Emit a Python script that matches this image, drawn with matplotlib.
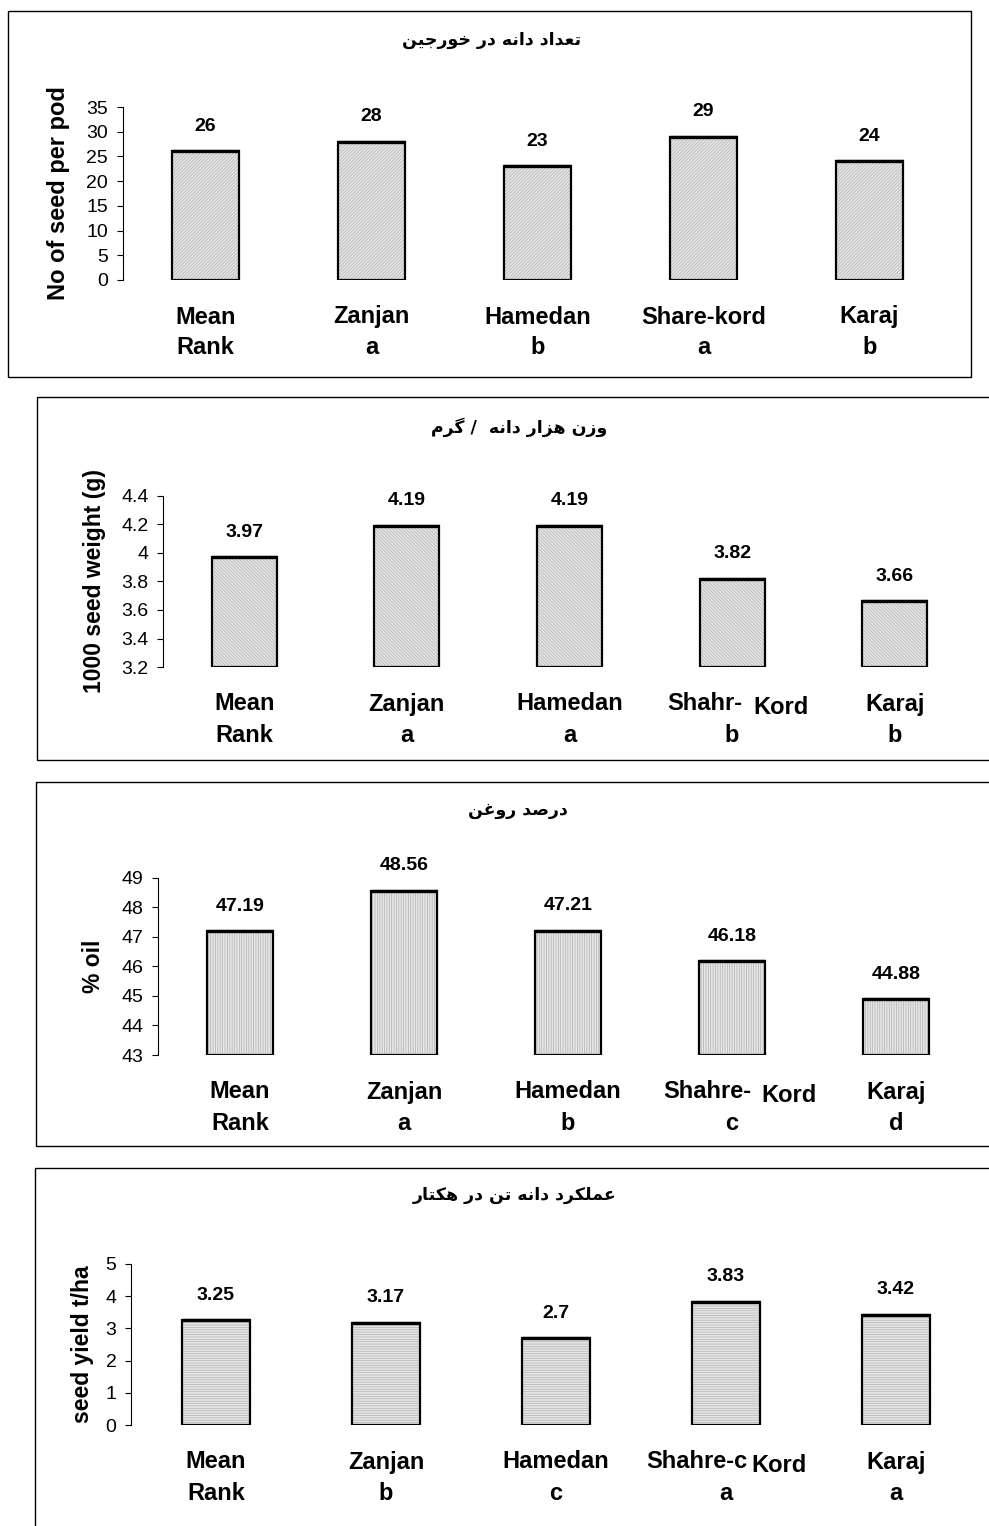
import numpy as np
import matplotlib
matplotlib.use("Agg")
import matplotlib.pyplot as plt
from matplotlib.patches import Rectangle
from matplotlib.ticker import FuncFormatter

plt.rcParams.update({"font.family": ["Liberation Sans", "DejaVu Sans"],
                     "hatch.linewidth": 0.5})

W, H = 989, 1526

# ---- data -------------------------------------------------------------
sites_1 = ["Mean", "Zanjan", "Hamedan", "Share-kord", "Karaj"]
ranks_1 = ["Rank", "a", "b", "a", "b"]
seeds_per_pod = [26, 28, 23, 29, 24]

sites_2 = ["Mean", "Zanjan", "Hamedan", ("Shahr-", "Kord"), "Karaj"]
ranks_2 = ["Rank", "a", "a", "b", "b"]
seed_weight = [3.97, 4.19, 4.19, 3.82, 3.66]

sites_3 = ["Mean", "Zanjan", "Hamedan", ("Shahre-", "Kord"), "Karaj"]
ranks_3 = ["Rank", "a", "b", "c", "d"]
oil_pct = [47.19, 48.56, 47.21, 46.18, 44.88]

sites_4 = ["Mean", "Zanjan", "Hamedan", ("Shahre-c", "Kord"), "Karaj"]
ranks_4 = ["Rank", "b", "c", "a", "a"]
seed_yield = [3.25, 3.17, 2.7, 3.83, 3.42]

titles = ["تعداد دانه در خورجین", "وزن هزار دانه  / گرم", "درصد روغن", "عملکرد دانه تن در هکتار"]
ylabels = ["No of seed per pod", "1000 seed weight (g)", "% oil", "seed yield t/ha"]

# ---- minimal persian shaping (matplotlib has no complex text layout) ----
FORMS = {"ا": (0xFE8D, 0xFE8E), "د": (0xFEA9, 0xFEAA), "ر": (0xFEAD, 0xFEAE),
         "ز": (0xFEAF, 0xFEB0), "و": (0xFEED, 0xFEEE),
         "ت": (0xFE95, 0xFE96, 0xFE97, 0xFE98), "ج": (0xFE9D, 0xFE9E, 0xFE9F, 0xFEA0),
         "خ": (0xFEA5, 0xFEA6, 0xFEA7, 0xFEA8), "ص": (0xFEB9, 0xFEBA, 0xFEBB, 0xFEBC),
         "ع": (0xFEC9, 0xFECA, 0xFECB, 0xFECC), "غ": (0xFECD, 0xFECE, 0xFECF, 0xFED0),
         "ل": (0xFEDD, 0xFEDE, 0xFEDF, 0xFEE0), "م": (0xFEE1, 0xFEE2, 0xFEE3, 0xFEE4),
         "ن": (0xFEE5, 0xFEE6, 0xFEE7, 0xFEE8), "ه": (0xFEE9, 0xFEEA, 0xFEEB, 0xFEEC),
         "ی": (0xFBFC, 0xFBFD, 0xFBFE, 0xFBFF), "ک": (0xFB8E, 0xFB8F, 0xFB90, 0xFB91),
         "گ": (0xFB92, 0xFB93, 0xFB94, 0xFB95)}


def shape(s):
    out = []
    for i, c in enumerate(s):
        if c not in FORMS:
            out.append(c)
            continue
        f = FORMS[c]
        jp = i > 0 and len(FORMS.get(s[i - 1], ())) == 4
        jn = len(f) == 4 and i + 1 < len(s) and s[i + 1] in FORMS
        if jp and jn:
            g = f[3]
        elif jp:
            g = f[1]
        elif jn:
            g = f[2]
        else:
            g = f[0]
        out.append(chr(g))
    return "".join(reversed(out))


# ---- layout (pixels) --------------------------------------------------
# left spine x, bar spacing, axes top y, axes bottom y, ylim, yticks, box, title xy, ylabel x, hatch
panels = [
    dict(sites=sites_1, ranks=ranks_1, vals=seeds_per_pod, x0=122.5, dx=166, top=107, bot=280,
         ylim=(0, 35), ticks=np.arange(0, 36, 5), box=(8, 11, 971, 377), tpos=(491, 40),
         ylx=58, yls=17, hatch="/" * 10, split=None),
    dict(sites=sites_2, ranks=ranks_2, vals=seed_weight, x0=163, dx=162.6, top=496, bot=667,
         ylim=(3.2, 4.4), ticks=np.arange(3.2, 4.41, 0.2), box=(37, 397, 1000, 760), tpos=(519, 427),
         ylx=94, yls=16.5, hatch="\\" * 10, split=(10, 21)),
    dict(sites=sites_3, ranks=ranks_3, vals=oil_pct, x0=158, dx=164, top=877.7, bot=1055,
         ylim=(43, 49), ticks=np.arange(43, 50, 1), box=(36, 782, 1000, 1146), tpos=(518, 810),
         ylx=94, yls=16.5, hatch="|" * 7, split=(19, 29)),
    dict(sites=sites_4, ranks=ranks_4, vals=seed_yield, x0=131, dx=170, top=1264, bot=1425,
         ylim=(0, 5), ticks=np.arange(0, 6, 1), box=(35, 1168, 1000, 1540), tpos=(515, 1195),
         ylx=82, yls=16.5, hatch="-" * 7, split=(22, 25)),
]

FACE = "#e6e6e6"
HATCH = "#b0b0b0"

fig = plt.figure(figsize=(W / 100, H / 100), dpi=100)

for p, title, ylab in zip(panels, titles, ylabels):
    bx0, by0, bx1, by1 = p["box"]
    fig.add_artist(Rectangle((bx0 / W, 1 - by1 / H), (bx1 - bx0) / W, (by1 - by0) / H,
                             transform=fig.transFigure, fill=False, ec="black", lw=1.0))

    ax = fig.add_axes([p["x0"] / W, 1 - p["bot"] / H, 5 * p["dx"] / W, (p["bot"] - p["top"]) / H])
    x = np.arange(len(p["vals"]))
    base = p["ylim"][0]
    heights = np.array(p["vals"]) - base
    ax.bar(x, heights, 0.40, bottom=base, color=FACE, edgecolor=HATCH, lw=0, hatch=p["hatch"], zorder=2)
    ax.bar(x, heights, 0.40, bottom=base, fill=False, edgecolor="black", lw=1.6, zorder=3)
    ax.hlines(p["vals"], x - 0.2, x + 0.2, color="black", lw=2.4, zorder=4)

    ax.set_xlim(-0.5, 4.5)
    ax.set_ylim(*p["ylim"])
    ax.set_yticks(p["ticks"])
    ax.yaxis.set_major_formatter(FuncFormatter(lambda v, _: f"{v:g}"))
    ax.tick_params(axis="y", direction="out", length=4.5, width=0.8, labelsize=14, pad=6)
    ax.set_xticks([])
    for s in ["top", "right", "bottom"]:
        ax.spines[s].set_visible(False)
    ax.spines["left"].set_linewidth(0.8)
    ax.patch.set_visible(False)

    for i, v in enumerate(p["vals"]):
        ax.annotate(f"{v:g}", (i, v), xytext=(0, 25), textcoords="offset pixels",
                    ha="center", va="center", fontsize=14, fontweight="bold")

    trans = ax.get_xaxis_transform()
    for i, (site, rank) in enumerate(zip(p["sites"], p["ranks"])):
        if isinstance(site, tuple):
            d1, d2 = p["split"]
            ax.annotate(site[0], (i, 0), xycoords=trans, xytext=(d1, -37), textcoords="offset pixels",
                        ha="right", va="center", fontsize=17, fontweight="bold", annotation_clip=False)
            ax.annotate(site[1], (i, 0), xycoords=trans, xytext=(d2, -41), textcoords="offset pixels",
                        ha="left", va="center", fontsize=17, fontweight="bold", annotation_clip=False)
        else:
            ax.annotate(site, (i, 0), xycoords=trans, xytext=(0, -37), textcoords="offset pixels",
                        ha="center", va="center", fontsize=17, fontweight="bold", annotation_clip=False)
        ax.annotate(rank, (i, 0), xycoords=trans, xytext=(0, -68), textcoords="offset pixels",
                    ha="center", va="center", fontsize=17, fontweight="bold", annotation_clip=False)

    fig.text(p["tpos"][0] / W, 1 - p["tpos"][1] / H, shape(title), ha="center", va="center",
             fontsize=12.5, fontweight="bold", family=["DejaVu Sans"])
    fig.text(p["ylx"] / W, 1 - (p["top"] + p["bot"]) / 2 / H, ylab, rotation=90, ha="center",
             va="center", fontsize=p["yls"], fontweight="bold")

fig.savefig("out.png", dpi=100)
